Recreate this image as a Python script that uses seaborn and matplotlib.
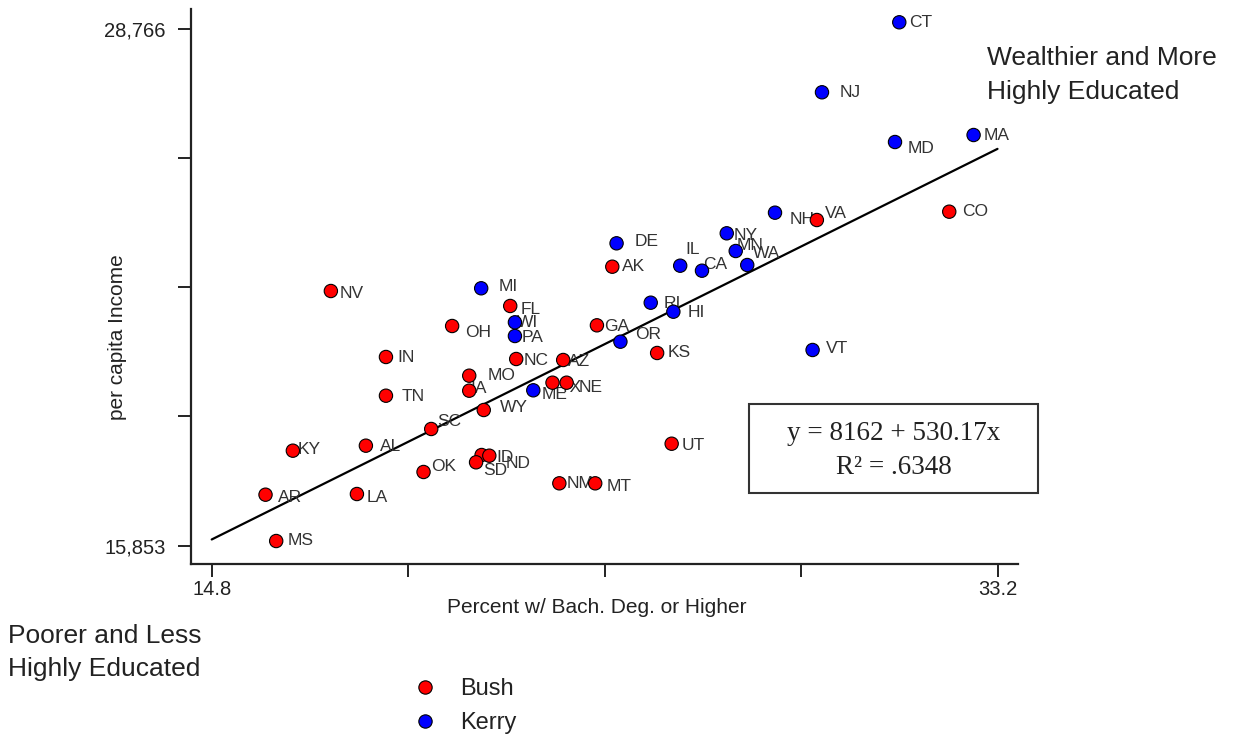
import matplotlib
matplotlib.use("Agg")
import matplotlib.pyplot as plt
import seaborn as sns
import pandas as pd
from matplotlib.patches import Rectangle

# ---------------- data ----------------
states = ["AL", "AK", "AZ", "AR", "CA", "CO", "CT", "DE", "FL", "GA",
          "HI", "ID", "IL", "IN", "IA", "KS", "KY", "LA", "ME", "MD",
          "MA", "MI", "MN", "MS", "MO", "MT", "NE", "NV", "NH", "NJ",
          "NM", "NY", "NC", "ND", "OH", "OK", "OR", "PA", "RI", "SC",
          "SD", "TN", "TX", "UT", "VT", "VA", "WA", "WV", "WI", "WY"]
pct_bach = [18.41, 24.18, 23.03, 16.06, 26.28, 32.07, 30.90, 24.28, 21.79, 23.82,
            25.61, 21.12, 25.77, 18.88, 20.83, 25.23, 16.70, 18.20, 22.33, 30.80,
            32.64, 21.11, 27.07, 16.31, 20.83, 23.78, 23.11, 17.59, 27.99, 29.09,
            22.94, 26.86, 21.93, 21.30, 20.43, 19.76, 24.37, 21.90, 25.08, 19.94,
            20.99, 18.88, 22.78, 25.57, 28.87, 28.97, 27.34, 14.11, 21.90, 21.17]
income = [18351, 22821, 20491, 17127, 22721, 24195, 28925, 23405, 21840, 21357,
          21697, 18118, 22846, 20566, 19724, 20666, 18226, 17144, 19734, 25935,
          26110, 22282, 23213, 15970, 20099, 17411, 19924, 22214, 24170, 27177,
          17411, 23655, 20516, 18101, 21340, 17694, 20948, 21090, 21922, 18768,
          17936, 19599, 19924, 18400, 20741, 23987, 22863, 16620, 21432, 19242]
winner = ["Bush", "Bush", "Bush", "Bush", "Kerry", "Bush", "Kerry", "Kerry", "Bush", "Bush",
          "Kerry", "Bush", "Kerry", "Bush", "Bush", "Bush", "Bush", "Bush", "Kerry", "Kerry",
          "Kerry", "Kerry", "Kerry", "Bush", "Bush", "Bush", "Bush", "Bush", "Kerry", "Kerry",
          "Bush", "Kerry", "Bush", "Bush", "Bush", "Bush", "Kerry", "Kerry", "Kerry", "Bush",
          "Bush", "Bush", "Bush", "Bush", "Kerry", "Bush", "Kerry", "Bush", "Kerry", "Bush"]
candidates = ["Bush", "Kerry"]

x_ticks = [14.8, 19.4, 24.0, 28.6, 33.2]
x_tick_labels = ["14.8", "", "", "", "33.2"]
y_ticks = [15853, 19081.25, 22309.5, 25537.75, 28766]
y_tick_labels = ["15,853", "", "", "", "28,766"]

intercept = 8162
slope = 530.17
r_squared = ".6348"
fit_x = [14.8, 33.2]

# ---------------- style / layout ----------------
palette = {"Bush": "#FF0000", "Kerry": "#0000FF"}
# label offsets in pixels (dx right, dy up) relative to marker centre
label_offsets = {
    "NV": (9, -2), "IN": (11, -1), "TN": (16, -1), "MI": (17, 2), "OH": (13, -7),
    "KY": (5, 1), "AL": (14, -1), "AR": (12, -3), "LA": (10, -3), "WV": (14, 1),
    "MS": (11, 1), "SC": (6, 7), "OK": (8, 5), "MO": (18, 0), "IA": (1, 2),
    "WY": (16, 3), "ME": (8, -4), "TX": (7, -5), "NE": (12, -5), "NC": (7, -2),
    "AZ": (5, -2), "FL": (10, -4), "WI": (2, 0), "PA": (7, -1), "GA": (7, -1),
    "RI": (13, -1), "HI": (14, -1), "OR": (15, 7), "KS": (10, 0), "VT": (13, 1),
    "DE": (18, 2), "AK": (10, 0), "IL": (5, 16), "CA": (1, 6), "NY": (7, -2),
    "MN": (1, 6), "WA": (6, 12), "NH": (15, -7), "VA": (8, 7), "UT": (10, -2),
    "ID": (15, -2), "ND": (16, -8), "SD": (7, -8), "NM": (7, 0), "MT": (11, -3),
    "CT": (10, 0), "NJ": (18, 0), "MD": (13, -6), "MA": (10, 0), "CO": (13, 0),
}

df = pd.DataFrame({"state": states, "pct": pct_bach, "income": income, "winner": winner})
fit_df = pd.DataFrame({"x": fit_x, "y": [intercept + slope * v for v in fit_x]})

sns.set_theme(style="white")
plt.rcParams["font.family"] = ["Liberation Sans", "DejaVu Sans"]

W, H = 1234, 741
fig = plt.figure(figsize=(W / 100, H / 100), dpi=100)
ax = fig.add_axes([191 / W, (H - 564) / H, 827 / W, 555 / H])

sns.lineplot(data=fit_df, x="x", y="y", ax=ax, color="black", linewidth=1.6,
             zorder=1.5, legend=False)
sns.scatterplot(data=df, x="pct", y="income", hue="winner", hue_order=candidates,
                palette=palette, s=92, edgecolor="black", linewidth=0.8,
                ax=ax, zorder=3)

for st, xv, yv in zip(states, pct_bach, income):
    dx, dy = label_offsets.get(st, (10, 0))
    ax.annotate(st, (xv, yv), xytext=(dx, dy), textcoords="offset pixels",
                ha="left", va="center", fontsize=12.5, color="#333333", zorder=2)

ax.set_xlim(14.315, 33.68)
ax.set_ylim(15396, 29257)
ax.set_xticks(x_ticks)
ax.set_xticklabels(x_tick_labels)
ax.set_yticks(y_ticks)
ax.set_yticklabels(y_tick_labels)

for side in ["top", "right"]:
    ax.spines[side].set_visible(False)
for side in ["left", "bottom"]:
    ax.spines[side].set_linewidth(1.6)
    ax.spines[side].set_color("#222222")

ax.tick_params(axis="both", which="both", direction="out", length=9.4, width=1.4,
               color="#222222", labelsize=14.5, labelcolor="#222222")
ax.tick_params(axis="x", pad=1.8, bottom=True)
ax.tick_params(axis="y", pad=9.0, left=True)

ax.set_xlabel("Percent w/ Bach. Deg. or Higher", fontsize=15, color="#222222")
ax.set_ylabel("per capita Income", fontsize=15, color="#222222")
ax.xaxis.set_label_coords((597 - 191) / 827, (564 - 598) / 555)
ax.yaxis.set_label_coords((127 - 191) / 827, (564 - 337) / 555)

# regression box
ax.add_patch(Rectangle(((749.3 - 191) / 827, (564 - 493.3) / 555),
                       (1037.7 - 749.3) / 827, (493.3 - 404) / 555,
                       transform=ax.transAxes, fill=False, edgecolor="#333333",
                       linewidth=1.5, clip_on=False, zorder=4))
eq_x = (893.5 - 191) / 827
ax.text(eq_x, (564 - 433.3) / 555, f"y = {intercept} + {slope}x",
        transform=ax.transAxes, ha="center", va="center", fontsize=19.5,
        family=["Liberation Serif", "DejaVu Serif"], color="#222222")
ax.text(eq_x, (564 - 467.3) / 555, f"R\u00b2 = {r_squared}",
        transform=ax.transAxes, ha="center", va="center", fontsize=19.5,
        family=["Liberation Serif", "DejaVu Serif"], color="#222222")

# corner annotations
fig.text(986.7 / W, 1 - 75 / H, "Wealthier and More\nHighly Educated",
         ha="left", va="center", fontsize=19, linespacing=1.5, color="#222222")
fig.text(8 / W, 1 - 652.5 / H, "Poorer and Less\nHighly Educated",
         ha="left", va="center", fontsize=19, linespacing=1.5, color="#222222")

# legend
handles, labels = ax.get_legend_handles_labels()
if ax.get_legend() is not None:
    ax.get_legend().remove()
ax.legend(handles, labels, loc="upper left",
          bbox_to_anchor=(413.2 / W, 1 - 678 / H), bbox_transform=fig.transFigure,
          frameon=False, fontsize=17, handlelength=1.0, handletextpad=1.0,
          labelspacing=0.52, borderpad=0, borderaxespad=0, labelcolor="#222222")

fig.savefig("out.png", dpi=100)
